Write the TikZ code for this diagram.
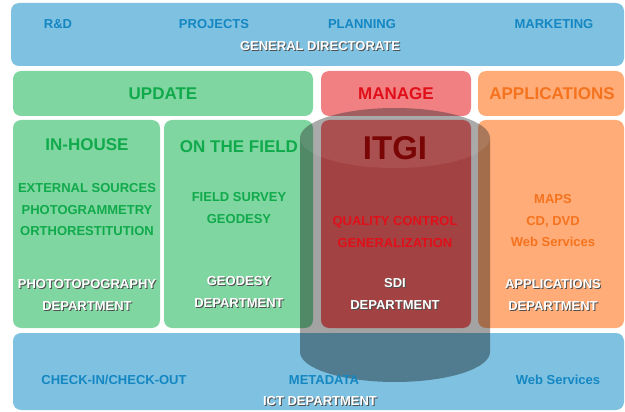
\documentclass[tikz,border=0pt]{standalone}
\usepackage{fontspec}
\setmainfont{Liberation Sans}
\usepackage{tikz}

\definecolor{dirblue}{HTML}{7FC1E0}
\definecolor{dirtext}{HTML}{1487C3}
\definecolor{updgreen}{HTML}{80D6A0}
\definecolor{updtext}{HTML}{10AA4C}
\definecolor{mngred}{HTML}{F08082}
\definecolor{sdired}{HTML}{FF6868}
\definecolor{mngtext}{HTML}{E10F19}
\definecolor{itgitext}{HTML}{7A0505}
\definecolor{appor}{HTML}{FFAC78}
\definecolor{apptext}{HTML}{F5731E}
\definecolor{shadowgray}{HTML}{505050}

\tikzset{
  box/.style={rounded corners=8pt},
  lbl/.style={font=\fontsize{13}{21.5}\selectfont\bfseries, align=center, inner sep=0pt},
  head/.style={font=\fontsize{17}{20}\selectfont\bfseries, inner sep=0pt},
}

% white label with a dark shadow
\newcommand{\depttext}[4]{%
  \node[lbl,text=shadowgray] (#1s) at (#2+1,#3+1) {#4};
  \node[lbl,text=white] (#1) at (#2,#3) {#4};}

\begin{document}
\begin{tikzpicture}[x=1pt,y=-1pt]
  \useasboundingbox (0,0) rectangle (625,412);

  % General directorate
  \fill[box,dirblue] (11,3) rectangle (624,66);
  \node[lbl,text=dirtext] (rd) at (58,24) {R\&D};
  \node[lbl,text=dirtext] (projects) at (214,24) {PROJECTS};
  \node[lbl,text=dirtext] (planning) at (362,24) {PLANNING};
  \node[lbl,text=dirtext] (marketing) at (554,24) {MARKETING};
  \depttext{gendir}{320}{46}{GENERAL DIRECTORATE}

  % Column headers
  \fill[box,updgreen] (13,71) rectangle (313,116);
  \fill[box,mngred] (321,71) rectangle (471,116);
  \fill[box,appor] (478,71) rectangle (624,116);

  % Departments
  \fill[box,updgreen] (13,120) rectangle (160,328);
  \fill[box,updgreen] (164,120) rectangle (313,328);
  \fill[box,sdired] (321,120) rectangle (471,328);
  \fill[box,appor] (478,120) rectangle (624,328);

  % ICT department
  \fill[box,dirblue] (13,333) rectangle (624,410);

  % ITGI cylinder
  \fill[black,opacity=0.36] (300,138) -- (300,352)
    arc[start angle=180,end angle=360,x radius=95pt,y radius=30pt]
    -- (490,138)
    arc[start angle=0,end angle=180,x radius=95pt,y radius=30pt] -- cycle;
  \fill[white,opacity=0.08] (395,138) ellipse[x radius=95pt,y radius=30pt];

  % Labels
  \node[head,text=updtext] (update) at (163,94) {UPDATE};
  \node[head,text=mngtext] (manage) at (396,94) {MANAGE};
  \node[head,text=apptext] (applications) at (552,94) {APPLICATIONS};

  \node[head,text=updtext] (inhouse) at (87,145) {IN-HOUSE};
  \node[lbl,text=updtext] (inhouselist) at (87,210) {EXTERNAL SOURCES\\PHOTOGRAMMETRY\\ORTHORESTITUTION};
  \depttext{photodep}{87}{295}{PHOTOTOPOGRAPHY\\DEPARTMENT}

  \node[head,text=updtext] (field) at (239,147) {ON THE FIELD};
  \node[lbl,text=updtext] (fieldlist) at (239,208) {FIELD SURVEY\\GEODESY};
  \depttext{geodep}{239}{292}{GEODESY\\DEPARTMENT}

  \node[font=\fontsize{33}{36}\selectfont\bfseries,inner sep=0pt,text=itgitext] (itgi) at (395,148) {ITGI};
  \node[lbl,text=mngtext] (sdilist) at (395,232) {QUALITY CONTROL\\GENERALIZATION};
  \depttext{sdidep}{395}{294}{SDI\\DEPARTMENT}

  \node[lbl,text=apptext] (applist) at (553,221) {MAPS\\CD, DVD\\Web Services};
  \depttext{appdep}{553}{295}{APPLICATIONS\\DEPARTMENT}

  \node[lbl,text=dirtext] (checkin) at (114,380) {CHECK-IN/CHECK-OUT};
  \node[lbl,text=dirtext] (metadata) at (324,380) {METADATA};
  \node[lbl,text=dirtext] (websvc) at (558,380) {Web Services};
  \depttext{ictdep}{320}{401}{ICT DEPARTMENT}
\end{tikzpicture}
\end{document}
